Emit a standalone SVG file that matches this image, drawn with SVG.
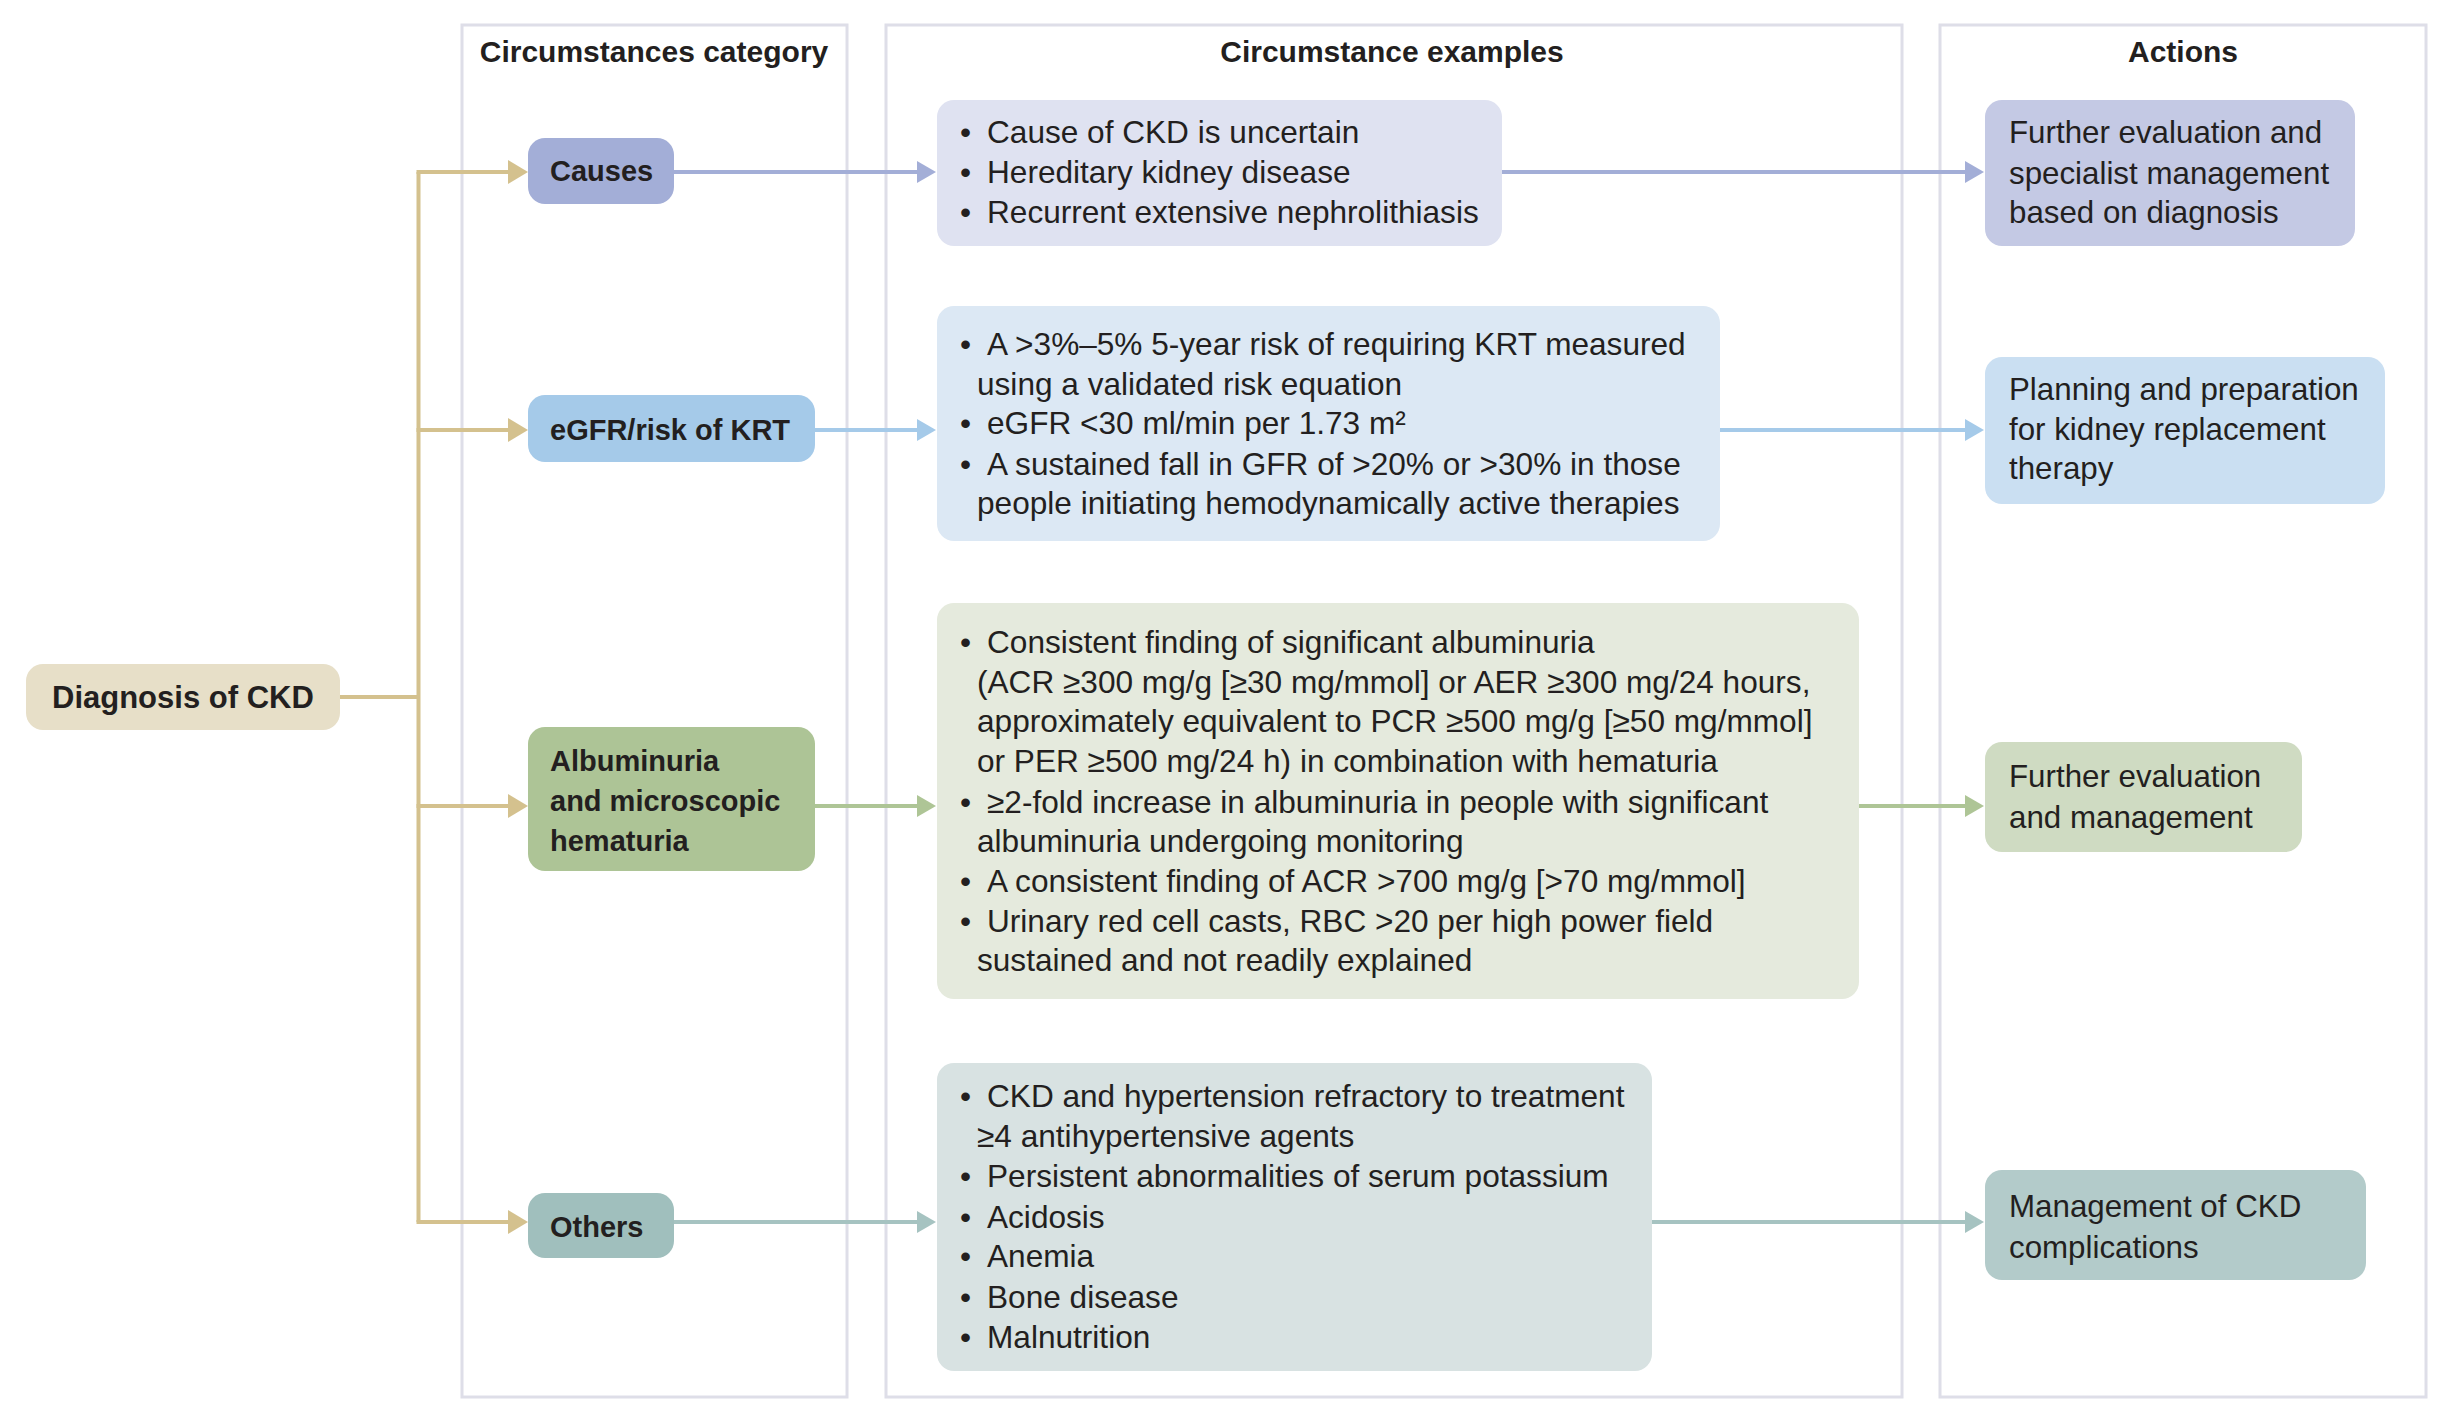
<svg xmlns="http://www.w3.org/2000/svg" width="2456" height="1418" viewBox="0 0 2456 1418">
<style>
text{font-family:"Liberation Sans",Arial,sans-serif;fill:#231F20}
.hd{font-size:30px;font-weight:bold;text-anchor:middle}
.nd{font-size:29px;font-weight:bold}
.ex{font-size:31.6px}
.ac{font-size:31.3px}
.panel{fill:none;stroke:#DEDEE8;stroke-width:3}
.ln{fill:none;stroke-width:4}
</style>
<defs>
<marker id="aTan" markerUnits="userSpaceOnUse" markerWidth="20" markerHeight="24" refX="1" refY="12" orient="auto"><path d="M0,0 L20,12 L0,24 z" fill="#D4C18E"/></marker>
<marker id="aCau" markerUnits="userSpaceOnUse" markerWidth="20" markerHeight="24" refX="1" refY="12" orient="auto"><path d="M0,1 L19,12 L0,23 z" fill="#A3AED7"/></marker>
<marker id="aEgf" markerUnits="userSpaceOnUse" markerWidth="20" markerHeight="24" refX="1" refY="12" orient="auto"><path d="M0,1 L19,12 L0,23 z" fill="#A5CAE9"/></marker>
<marker id="aAlb" markerUnits="userSpaceOnUse" markerWidth="20" markerHeight="24" refX="1" refY="12" orient="auto"><path d="M0,1 L19,12 L0,23 z" fill="#AEC596"/></marker>
<marker id="aOth" markerUnits="userSpaceOnUse" markerWidth="20" markerHeight="24" refX="1" refY="12" orient="auto"><path d="M0,1 L19,12 L0,23 z" fill="#A6C3C1"/></marker>
</defs>
<rect width="2456" height="1418" fill="#FFFFFF"/>

<g id="panels">
<rect class="panel" x="462" y="25" width="385" height="1372"/>
<rect class="panel" x="886" y="25" width="1016" height="1372"/>
<rect class="panel" x="1940" y="25" width="486" height="1372"/>
<text class="hd" x="654" y="62">Circumstances category</text>
<text class="hd" x="1392" y="62">Circumstance examples</text>
<text class="hd" x="2183" y="62">Actions</text>
</g>

<g id="connectors">
<path class="ln" stroke="#D4C18E" d="M340,697 H418.5"/>
<path class="ln" stroke="#D4C18E" d="M418.5,172 V1222"/>
<path class="ln" stroke="#D4C18E" marker-end="url(#aTan)" d="M416.5,172 H509"/>
<path class="ln" stroke="#D4C18E" marker-end="url(#aTan)" d="M416.5,430 H509"/>
<path class="ln" stroke="#D4C18E" marker-end="url(#aTan)" d="M416.5,806 H509"/>
<path class="ln" stroke="#D4C18E" marker-end="url(#aTan)" d="M416.5,1222 H509"/>
<path class="ln" stroke="#A3AED7" marker-end="url(#aCau)" d="M674,172 H918"/>
<path class="ln" stroke="#A3AED7" marker-end="url(#aCau)" d="M1502,172 H1966"/>
<path class="ln" stroke="#A5CAE9" marker-end="url(#aEgf)" d="M815,430 H918"/>
<path class="ln" stroke="#A5CAE9" marker-end="url(#aEgf)" d="M1720,430 H1966"/>
<path class="ln" stroke="#AEC596" marker-end="url(#aAlb)" d="M815,806 H918"/>
<path class="ln" stroke="#AEC596" marker-end="url(#aAlb)" d="M1859,806 H1966"/>
<path class="ln" stroke="#A6C3C1" marker-end="url(#aOth)" d="M674,1222 H918"/>
<path class="ln" stroke="#A6C3C1" marker-end="url(#aOth)" d="M1652,1222 H1966"/>
</g>

<g id="diagnosis">
<rect x="26" y="664" width="314" height="66" rx="17" fill="#E7DFC8"/>
<text x="52" y="708" style="font-size:31px;font-weight:bold">Diagnosis of CKD</text>
</g>

<g id="causes">
<rect x="528" y="138" width="146" height="66" rx="17" fill="#A3AED7"/>
<text class="nd" x="550" y="181">Causes</text>
</g>
<g id="egfr">
<rect x="528" y="395" width="287" height="67" rx="17" fill="#A5CAE9"/>
<text class="nd" x="550" y="440">eGFR/risk of KRT</text>
</g>
<g id="albuminuria">
<rect x="528" y="727" width="287" height="144" rx="17" fill="#ADC496"/>
<text class="nd" x="550" y="771">Albuminuria</text>
<text class="nd" x="550" y="811">and microscopic</text>
<text class="nd" x="550" y="851">hematuria</text>
</g>
<g id="others">
<rect x="528" y="1193" width="146" height="65" rx="17" fill="#A0BFBD"/>
<text class="nd" x="550" y="1237">Others</text>
</g>

<g id="causes-examples">
<rect x="937" y="100" width="565" height="146" rx="17" fill="#DFE2F1"/>
<text class="ex" x="960" y="143">•</text><text class="ex" x="987" y="143">Cause of CKD is uncertain</text>
<text class="ex" x="960" y="183">•</text><text class="ex" x="987" y="183">Hereditary kidney disease</text>
<text class="ex" x="960" y="223">•</text><text class="ex" x="987" y="223">Recurrent extensive nephrolithiasis</text>
</g>
<g id="egfr-examples">
<rect x="937" y="306" width="783" height="235" rx="17" fill="#DCE8F4"/>
<text class="ex" x="960" y="355">•</text><text class="ex" x="987" y="355">A &gt;3%–5% 5-year risk of requiring KRT measured</text>
<text class="ex" x="977" y="395">using a validated risk equation</text>
<text class="ex" x="960" y="434">•</text><text class="ex" x="987" y="434">eGFR &lt;30 ml/min per 1.73 m²</text>
<text class="ex" x="960" y="475">•</text><text class="ex" x="987" y="475">A sustained fall in GFR of &gt;20% or &gt;30% in those</text>
<text class="ex" x="977" y="514">people initiating hemodynamically active therapies</text>
</g>
<g id="albuminuria-examples">
<rect x="937" y="603" width="922" height="396" rx="17" fill="#E5EADD"/>
<text class="ex" x="960" y="653">•</text><text class="ex" x="987" y="653">Consistent finding of significant albuminuria</text>
<text class="ex" x="977" y="693">(ACR ≥300 mg/g [≥30 mg/mmol] or AER ≥300 mg/24 hours,</text>
<text class="ex" x="977" y="732">approximately equivalent to PCR ≥500 mg/g [≥50 mg/mmol]</text>
<text class="ex" x="977" y="772">or PER ≥500 mg/24 h) in combination with hematuria</text>
<text class="ex" x="960" y="813">•</text><text class="ex" x="987" y="813">≥2-fold increase in albuminuria in people with significant</text>
<text class="ex" x="977" y="852">albuminuria undergoing monitoring</text>
<text class="ex" x="960" y="892">•</text><text class="ex" x="987" y="892">A consistent finding of ACR &gt;700 mg/g [&gt;70 mg/mmol]</text>
<text class="ex" x="960" y="932">•</text><text class="ex" x="987" y="932">Urinary red cell casts, RBC &gt;20 per high power field</text>
<text class="ex" x="977" y="971">sustained and not readily explained</text>
</g>
<g id="others-examples">
<rect x="937" y="1063" width="715" height="308" rx="17" fill="#D8E2E2"/>
<text class="ex" x="960" y="1107">•</text><text class="ex" x="987" y="1107">CKD and hypertension refractory to treatment</text>
<text class="ex" x="977" y="1147">≥4 antihypertensive agents</text>
<text class="ex" x="960" y="1187">•</text><text class="ex" x="987" y="1187">Persistent abnormalities of serum potassium</text>
<text class="ex" x="960" y="1228">•</text><text class="ex" x="987" y="1228">Acidosis</text>
<text class="ex" x="960" y="1267">•</text><text class="ex" x="987" y="1267">Anemia</text>
<text class="ex" x="960" y="1308">•</text><text class="ex" x="987" y="1308">Bone disease</text>
<text class="ex" x="960" y="1348">•</text><text class="ex" x="987" y="1348">Malnutrition</text>
</g>

<g id="action-causes">
<rect x="1985" y="100" width="370" height="146" rx="17" fill="#C4C9E4"/>
<text class="ac" x="2009" y="143">Further evaluation and</text>
<text class="ac" x="2009" y="184">specialist management</text>
<text class="ac" x="2009" y="223">based on diagnosis</text>
</g>
<g id="action-egfr">
<rect x="1985" y="357" width="400" height="147" rx="17" fill="#CADFF2"/>
<text class="ac" x="2009" y="400">Planning and preparation</text>
<text class="ac" x="2009" y="440">for kidney replacement</text>
<text class="ac" x="2009" y="479">therapy</text>
</g>
<g id="action-albuminuria">
<rect x="1985" y="742" width="317" height="110" rx="17" fill="#CFDBC2"/>
<text class="ac" x="2009" y="787">Further evaluation</text>
<text class="ac" x="2009" y="828">and management</text>
</g>
<g id="action-others">
<rect x="1985" y="1170" width="381" height="110" rx="17" fill="#B3CBCA"/>
<text class="ac" x="2009" y="1217">Management of CKD</text>
<text class="ac" x="2009" y="1258">complications</text>
</g>
</svg>
